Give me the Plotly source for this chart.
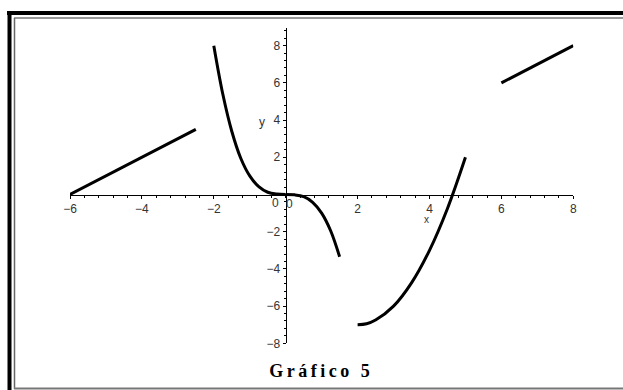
import plotly.graph_objects as go

W, H = 623, 390

# ---- data ----
seg1_x = [-6, -2.5]
seg1_y = [0, 3.5]

seg2_x = [-2, -1.75, -1.5, -1.25, -1, -0.75, -0.5, -0.25, 0]
seg2_y = [8, 5.4, 3.4, 1.95, 1.0, 0.42, 0.12, 0.02, 0]

seg3_x = [0, 0.25, 0.5, 0.75, 1, 1.25, 1.5]
seg3_y = [0, -0.02, -0.12, -0.42, -1.0, -1.95, -3.35]

seg4_x = [2, 2.25, 2.5, 3, 3.5, 4, 4.5, 5]
seg4_y = [-7, -6.95, -6.75, -6, -4.75, -3, -0.75, 2]

seg5_x = [6, 8]
seg5_y = [6, 8]

x_ticks = [-6, -4, -2, 2, 4, 6, 8]
y_ticks = [-8, -6, -4, -2, 2, 4, 6, 8]

segments = [(seg1_x, seg1_y), (seg2_x, seg2_y), (seg3_x, seg3_y),
            (seg4_x, seg4_y), (seg5_x, seg5_y)]

fig = go.Figure()
for sx, sy in segments:
    fig.add_trace(go.Scatter(x=sx, y=sy, mode="lines",
                             line=dict(color="black", width=3, shape="spline"),
                             cliponaxis=False, showlegend=False,
                             hoverinfo="skip"))

def px(x):
    return x / W

def py(y):
    return 1 - y / H

tickfont = dict(family="Liberation Sans", size=12, color="#333")

fig.update_layout(
    width=W, height=H,
    margin=dict(l=0, r=0, t=0, b=0, autoexpand=False),
    paper_bgcolor="white", plot_bgcolor="white",
    xaxis=dict(range=[-6, 8], domain=[70 / W, 573.3 / W],
               anchor="free", position=py(194.5), automargin=False,
               showline=True, linecolor="black", linewidth=1,
               showgrid=False, zeroline=False,
               tickmode="array", tickvals=x_ticks,
               ticks="outside", ticklen=3, tickcolor="black",
               tickfont=tickfont,
               minor=dict(ticks="outside", dtick=0.4, tick0=0, ticklen=2,
                          tickcolor="black", showgrid=False)),
    yaxis=dict(range=[-8, 8.95], domain=[py(343.3), py(28.0)],
               anchor="free", position=px(285.7), automargin=False,
               showline=True, linecolor="black", linewidth=1,
               showgrid=False, zeroline=False,
               tickmode="array", tickvals=y_ticks,
               ticks="outside", ticklen=3, tickcolor="black",
               tickfont=tickfont,
               minor=dict(ticks="outside", dtick=0.4, tick0=0, ticklen=2,
                          tickcolor="black", showgrid=False)),
    shapes=[
        # outer thick frame
        dict(type="line", xref="paper", yref="paper", x0=px(7), x1=px(623),
             y0=py(13), y1=py(13), line=dict(color="black", width=4)),
        dict(type="line", xref="paper", yref="paper", x0=px(9.5), x1=px(9.5),
             y0=py(11), y1=py(390), line=dict(color="black", width=4)),
        # inner thin frame
        dict(type="line", xref="paper", yref="paper", x0=px(14), x1=px(623),
             y0=py(18), y1=py(18), line=dict(color="#333", width=1)),
        dict(type="line", xref="paper", yref="paper", x0=px(14.5), x1=px(14.5),
             y0=py(18), y1=py(389), line=dict(color="#666", width=1.5)),
        dict(type="line", xref="paper", yref="paper", x0=px(14), x1=px(623),
             y0=py(388.5), y1=py(388.5), line=dict(color="#777", width=2)),
    ],
    annotations=[
        dict(text="y", xref="paper", yref="paper", x=px(262), y=py(113),
             showarrow=False, font=dict(family="Liberation Sans", size=12, color="#333")),
        dict(text="x", xref="paper", yref="paper", x=px(430.5), y=py(219),
             showarrow=False, font=dict(family="Liberation Sans", size=10, color="#333")),
        dict(text="0", xref="paper", yref="paper", x=px(275), y=py(202.5),
             showarrow=False, font=tickfont),
        dict(text="0", xref="paper", yref="paper", x=px(289.5), y=py(204),
             showarrow=False, font=tickfont),
        dict(text="<b>Gráfico 5</b>", xref="paper", yref="paper",
             x=px(321), y=py(371), yanchor="middle",
             showarrow=False,
             font=dict(family="Liberation Serif", size=18, color="black")),
    ],
)

post = """
document.body.style.margin = '0';
document.body.style.overflow = 'hidden';
var tt = document.querySelectorAll('.annotation-text');
tt.forEach(function(t){ if (t.textContent.indexOf('Gr') === 0) { t.style.letterSpacing = '3.5px'; } });
"""

fig.write_html("out.html", post_script=post, config={"displayModeBar": False})
